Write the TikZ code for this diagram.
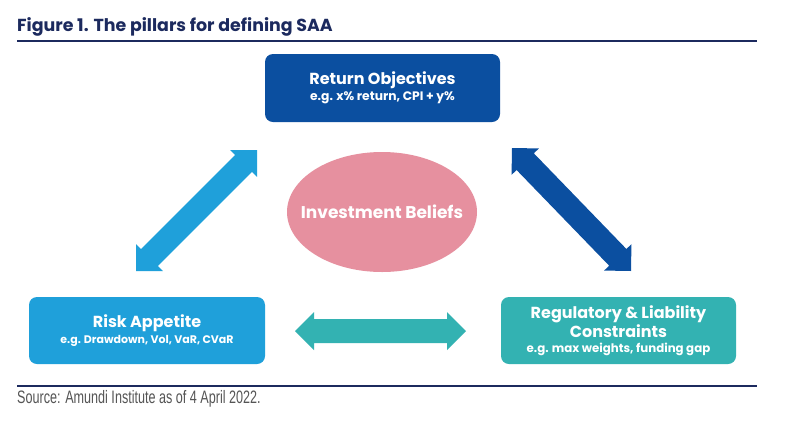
\documentclass[tikz,border=0pt]{standalone}
\usepackage{fontspec}
\usepackage{graphicx}
\setmainfont{Poppins}
\newfontfamily\srcfont{Liberation Sans}
\usetikzlibrary{calc,shapes.geometric}
\definecolor{navy}{HTML}{1C2A5E}
\definecolor{darkblue}{HTML}{0B4FA0}
\definecolor{lightblue}{HTML}{1FA0DA}
\definecolor{teal}{HTML}{33B2B2}
\definecolor{pink}{HTML}{E6909F}
\definecolor{srcgray}{HTML}{555555}
\newcommand{\dblarr}[3]{%
\fill[#3] (#1) -- ($(#1)!19pt!(#2)!19pt!90:(#2)$) -- ($(#1)!19pt!(#2)!12pt!90:(#2)$)
 -- ($(#2)!19pt!(#1)!12pt!-90:(#1)$) -- ($(#2)!19pt!(#1)!19pt!-90:(#1)$) -- (#2)
 -- ($(#2)!19pt!(#1)!19pt!90:(#1)$) -- ($(#2)!19pt!(#1)!12pt!90:(#1)$)
 -- ($(#1)!19pt!(#2)!12pt!-90:(#2)$) -- ($(#1)!19pt!(#2)!19pt!-90:(#2)$) -- cycle;}
\newcommand{\boxhead}[1]{{\fontsize{16}{16}\selectfont\bfseries #1}}
\newcommand{\boxsub}[2]{{\fontsize{#1}{16}\selectfont\bfseries #2}}
\tikzset{
  box/.style={rectangle, rounded corners=8pt, text=white, align=center, inner sep=0pt},
  rule/.style={draw=navy, line width=1.4pt},
}
\begin{document}
\begin{tikzpicture}[x=1pt,y=-1pt]
\useasboundingbox[fill=white] (0,0) rectangle (800,424);
\node[anchor=base west, inner sep=0pt, text=navy, font=\fontsize{17.4}{18}\selectfont\bfseries] (title) at (17,31) {Figure 1. The pillars for defining SAA};
\coordinate (r1a) at (17,41); \coordinate (r1b) at (757,41);
\coordinate (r2a) at (17,386); \coordinate (r2b) at (757,386);
\draw[rule] (r1a) -- (r1b);
\draw[rule] (r2a) -- (r2b);
\node[anchor=base west, inner sep=0pt, text=srcgray] (src) at (17,403) {\scalebox{0.7}[1]{\srcfont\fontsize{18}{18}\selectfont Source: Amundi Institute as of 4 April 2022.}};

\node[box, fill=darkblue, minimum width=235pt, minimum height=68pt] (ret) at (382.5,88)
  {\boxhead{Return Objectives}\\[2pt]
   \boxsub{12.3}{e.g. x\% return, CPI + y\%}};
\node[box, fill=lightblue, minimum width=236pt, minimum height=67pt] (risk) at (147,330.5)
  {\boxhead{Risk Appetite}\\[2pt]
   \boxsub{11}{e.g. Drawdown, Vol, VaR, CVaR}};
\node[box, fill=teal, minimum width=235pt, minimum height=67pt] (reg) at (618.5,330.5)
  {\boxhead{Regulatory \& Liability}\\[1pt]
   \boxhead{Constraints}\\[3pt]
   \boxsub{11.8}{e.g. max weights, funding gap}};
\node[ellipse, fill=pink, minimum width=190pt, minimum height=120pt, inner sep=0pt] (beliefs) at (382,212) {};
\node[text=white, inner sep=0pt, font=\fontsize{17}{17}\selectfont\bfseries] (beliefstext) at (beliefs.center) {Investment Beliefs};

\coordinate (la) at (136,271); \coordinate (lb) at (257,150);
\coordinate (ra) at (512,148); \coordinate (rb) at (631,271);
\coordinate (ha) at (295,331); \coordinate (hb) at (466,331);
\dblarr{la}{lb}{lightblue}
\dblarr{ra}{rb}{darkblue}
\dblarr{ha}{hb}{teal}
\end{tikzpicture}
\end{document}
